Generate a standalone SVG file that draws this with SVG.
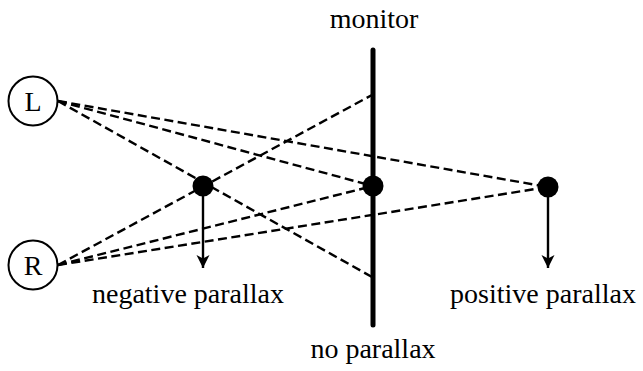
<svg xmlns="http://www.w3.org/2000/svg" width="643" height="371" viewBox="0 0 643 371">
<defs>
<style>
.t{font-family:"Liberation Serif","Times New Roman",serif;font-size:28px;fill:#000}
.d{stroke:#000;stroke-width:2.4;stroke-dasharray:9 4.5;fill:none}
.c{fill:#fff;stroke:#000;stroke-width:2}
.a{stroke:#000;stroke-width:2.4;fill:none}
</style>
<marker id="ah" viewBox="0 0 14 14" refX="13" refY="7" markerWidth="14" markerHeight="14" markerUnits="userSpaceOnUse" orient="auto">
<path d="M0,0.5 L13,7 L0,13.5 L3.5,7 Z" fill="#000"/>
</marker>
</defs>
<rect width="643" height="371" fill="#fff"/>
<g id="connectors">
<line class="d" x1="58" y1="101" x2="372" y2="277"/>
<line class="d" x1="58" y1="101" x2="373" y2="186"/>
<line class="d" x1="58" y1="101" x2="548" y2="187"/>
<line class="d" x1="58" y1="265" x2="372" y2="95"/>
<line class="d" x1="58" y1="265" x2="373" y2="186"/>
<line class="d" x1="58" y1="265" x2="548" y2="187"/>
<line class="a" x1="203" y1="186" x2="203" y2="268" marker-end="url(#ah)"/>
<line class="a" x1="548" y1="187" x2="548" y2="268" marker-end="url(#ah)"/>
</g>
<g id="monitor">
<line x1="373" y1="50" x2="373" y2="325" stroke="#000" stroke-width="5" stroke-linecap="round"/>
<text class="t" x="374" y="28" text-anchor="middle">monitor</text>
</g>
<g id="L"><circle class="c" cx="33" cy="101" r="24.5"/><text class="t" x="33" y="111" text-anchor="middle">L</text></g>
<g id="R"><circle class="c" cx="33" cy="265" r="24.5"/><text class="t" x="33" y="275" text-anchor="middle">R</text></g>
<g id="negative"><circle cx="203" cy="186" r="10.5"/><text class="t" x="188" y="303" text-anchor="middle">negative parallax</text></g>
<g id="zero"><circle cx="373" cy="186" r="10.5"/><text class="t" x="373" y="358" text-anchor="middle">no parallax</text></g>
<g id="positive"><circle cx="548" cy="187" r="10.5"/><text class="t" x="543" y="303" text-anchor="middle">positive parallax</text></g>
</svg>
